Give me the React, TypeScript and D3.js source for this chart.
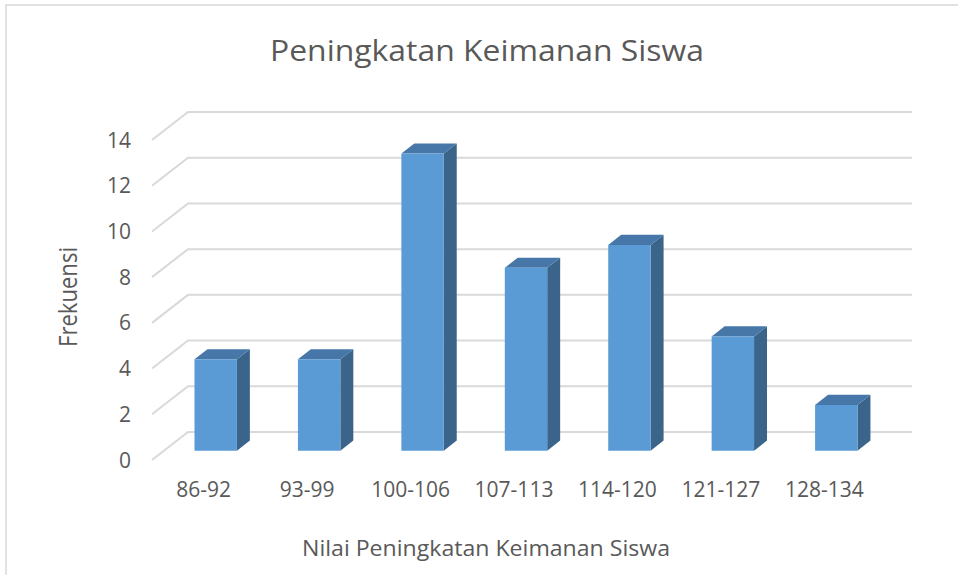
import React from "react";
import * as d3 from "d3";

const categories = ["86-92", "93-99", "100-106", "107-113", "114-120", "121-127", "128-134"];
const frekuensi = [4, 4, 13, 8, 9, 5, 2];
const yTicks = [0, 2, 4, 6, 8, 10, 12, 14];
const title = "Peningkatan Keimanan Siswa";
const xTitle = "Nilai Peningkatan Keimanan Siswa";
const yTitle = "Frekuensi";

const W = 958;
const H = 575;
// front plane of the floor
const X0 = 152;
const X1 = 876;
const Y0 = 460;
const Y14 = 140;
// depth of the whole plot
const DX = 36;
const DY = -28;
// bar position in depth
const BF = 1 / 3;
const BD = 0.36;

const FONT = "'Open Sans', 'Noto Sans', sans-serif";
const TEXT = "#595959";
const GRID = "#d9d9d9";

export default function App() {
  const x = d3.scaleBand<string>().domain(categories).range([X0, X1]).paddingInner(0).paddingOuter(0);
  const y = d3.scaleLinear().domain([0, 14]).range([Y0, Y14]);
  const bw = x.bandwidth() * 0.41;

  const fx = DX * BF;
  const fy = DY * BF;
  const ddx = DX * BD;
  const ddy = DY * BD;

  return (
    <svg
      width={W}
      height={H}
      style={{ position: "absolute", left: 0, top: 0, background: "#fff" }}
    >
      <rect x={0} y={0} width={W} height={H} fill="#fff" />
      <rect x={6} y={5} width={W + 20} height={H + 20} fill="none" stroke={GRID} strokeWidth={1.5} />

      <text x={487} y={61} textAnchor="middle" fontFamily={FONT} fontSize={29} fill={TEXT} textLength={434} lengthAdjust="spacingAndGlyphs">
        {title}
      </text>

      {yTicks.map((t) => {
        const yy = y(t);
        return (
          <g key={t}>
            <path
              d={d3.line()([[X0, yy], [X0 + DX, yy + DY], [X1 + DX, yy + DY]]) || ""}
              fill="none"
              stroke={GRID}
              strokeWidth={2}
            />
            <text x={131} y={yy + 7.5} textAnchor="end" fontFamily={FONT} fontSize={21} fill={TEXT}>
              {t}
            </text>
          </g>
        );
      })}

      {categories.map((c, i) => {
        const cx = (x(c) as number) + x.bandwidth() / 2;
        const left = cx - bw / 2 + fx;
        const right = left + bw;
        const base = y(0) + fy;
        const top = y(frekuensi[i]) + fy;
        const front = d3.path();
        front.rect(left, top, bw, base - top);
        const topFace = d3.line()([
          [left, top],
          [left + ddx, top + ddy],
          [right + ddx, top + ddy],
          [right, top],
        ]);
        const side = d3.line()([
          [right, top],
          [right + ddx, top + ddy],
          [right + ddx, base + ddy],
          [right, base],
        ]);
        return (
          <g key={c}>
            <path d={(side || "") + "Z"} fill="#3a6489" />
            <path d={(topFace || "") + "Z"} fill="#4677a8" />
            <path d={front.toString()} fill="#5b9bd5" />
          </g>
        );
      })}

      {categories.map((c) => (
        <text
          key={c}
          x={(x(c) as number) + x.bandwidth() / 2}
          y={497}
          textAnchor="middle"
          fontFamily={FONT}
          fontSize={21}
          fill={TEXT}
        >
          {c}
        </text>
      ))}

      <text
        transform="translate(77,297) rotate(-90)"
        textAnchor="middle"
        fontFamily={FONT}
        fontSize={25}
        fill={TEXT}
        textLength={100}
        lengthAdjust="spacingAndGlyphs"
      >
        {yTitle}
      </text>

      <text x={486} y={556} textAnchor="middle" fontFamily={FONT} fontSize={22} fill={TEXT} textLength={368} lengthAdjust="spacingAndGlyphs">
        {xTitle}
      </text>
    </svg>
  );
}
